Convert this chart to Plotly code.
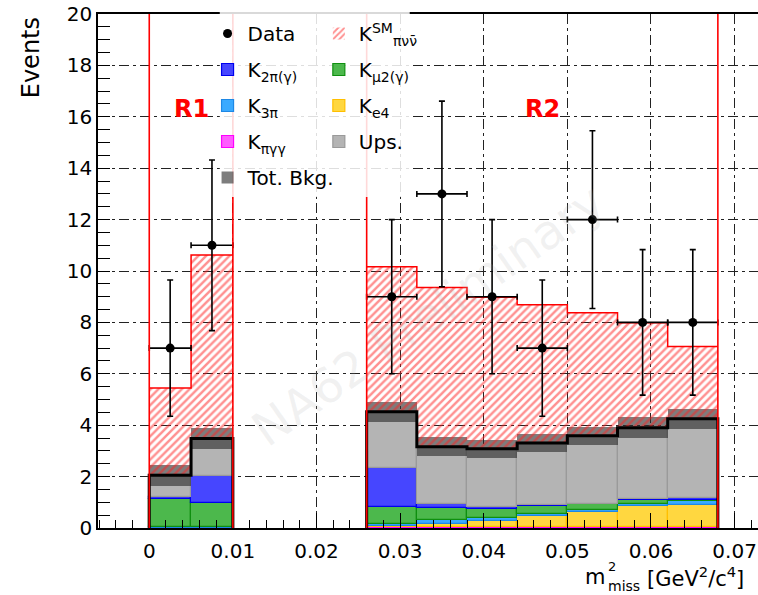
import numpy as np
import plotly.graph_objects as go

# ---------------- data ----------------
# bin edges of the two signal regions, m2_miss in GeV^2/c^4
r1_edges = [0.0, 0.005, 0.010]
r2_edges = [0.026, 0.032, 0.038, 0.044, 0.050, 0.056, 0.062, 0.068]

# expected events per bin (2 R1 bins followed by 7 R2 bins)
k_pigg   = [0.00, 0.00, 0.02, 0.04, 0.04, 0.04, 0.04, 0.04, 0.04]
k_e4     = [0.00, 0.00, 0.04, 0.12, 0.25, 0.43, 0.58, 0.80, 0.86]
k_3pi    = [0.04, 0.03, 0.10, 0.15, 0.08, 0.08, 0.10, 0.08, 0.15]
k_mu2    = [1.07, 0.95, 0.66, 0.45, 0.38, 0.30, 0.20, 0.17, 0.04]
k_2pi    = [0.09, 1.05, 1.52, 0.16, 0.07, 0.05, 0.02, 0.02, 0.09]
ups      = [0.85, 1.45, 2.18, 2.24, 2.26, 2.41, 2.65, 2.79, 3.07]
bkg_err  = [0.41, 0.42, 0.40, 0.37, 0.36, 0.36, 0.35, 0.40, 0.40]
k_pinunu = [3.40, 7.14, 5.65, 6.20, 5.90, 5.38, 4.79, 4.09, 2.81]
data_n   = [7, 11, 9, 13, 9, 7, 12, 8, 8]
data_err = [2.65, 3.32, 3.00, 3.61, 3.00, 2.65, 3.46, 2.83, 2.83]
region_labels = ["R1", "R2"]

# ---------------- derived binning ----------------
edges_list = [np.array(r1_edges), np.array(r2_edges)]
centers = np.concatenate([(e[:-1] + e[1:]) / 2 for e in edges_list])
widths = np.concatenate([np.diff(e) for e in edges_list])
nb1 = len(r1_edges) - 1
slices = [slice(0, nb1), slice(nb1, None)]

FONT = "DejaVu Sans"
fig = go.Figure()

# stacked backgrounds (bottom -> top)
components = [
    ("K<sub>πγγ</sub>", k_pigg, "#ff5cff", "#ff00ff", "legend", 4),
    ("K<sub>e4</sub>", k_e4, "#ffd740", "#ffbf00", "legend2", 3),
    ("K<sub>3π</sub>", k_3pi, "#3aaaff", "#1e88e5", "legend", 3),
    ("K<sub>μ2(γ)</sub>", k_mu2, "#4cb84c", "#0f8f0f", "legend2", 2),
    ("K<sub>2π(γ)</sub>", k_2pi, "#4646ff", "#0000ee", "legend", 2),
    ("Ups.", ups, "#b4b4b4", "#9a9a9a", "legend2", 4),
]
base = np.zeros(len(centers))
for name, vals, fill, edge, leg, rank in components:
    vals = np.array(vals, dtype=float)
    fig.add_trace(go.Bar(
        x=centers, y=vals, base=base.copy(), width=widths, name=name,
        marker=dict(color=fill, line=dict(color=edge, width=1.2)),
        legend=leg, legendgroup=name, legendrank=rank, hoverinfo="skip"))
    base = base + vals
tot = base
err = np.array(bkg_err)

# total background uncertainty band
fig.add_trace(go.Bar(
    x=centers, y=2 * err, base=tot - err, width=widths, name="Tot. Bkg.",
    marker=dict(color="rgba(45,45,45,0.62)", line=dict(width=0)),
    legend="legend", legendgroup="Tot. Bkg.", legendrank=5, hoverinfo="skip"))

# SM signal, hatched, stacked on top of the background
fig.add_trace(go.Bar(
    x=centers, y=k_pinunu, base=tot, width=widths,
    name="K<sup>SM</sup><sub>πνν̄</sub>",
    marker=dict(color="rgba(255,255,255,0)", line=dict(width=0),
                pattern=dict(shape="/", fgcolor="#ff2222", size=5.5, solidity=0.45)),
    legend="legend2", legendgroup="sig", legendrank=1, hoverinfo="skip"))

sig_top = tot + np.array(k_pinunu)
for e, s in zip(edges_list, slices):
    # total background line, dropping to zero at region edges
    xs = np.concatenate([[e[0]], e[:-1], [e[-1]]])
    ys = np.concatenate([[0.0], tot[s], [0.0]])
    fig.add_trace(go.Scatter(x=xs, y=ys, mode="lines", line=dict(color="black", width=3, shape="hv"),
                             showlegend=False, hoverinfo="skip"))
    # signal outline
    xs2 = np.concatenate([e[:-1], [e[-1]]])
    ys2 = np.concatenate([sig_top[s], [sig_top[s][-1]]])
    fig.add_trace(go.Scatter(x=xs2, y=ys2, mode="lines", line=dict(color="#ff0000", width=1.5, shape="hv"),
                             showlegend=False, hoverinfo="skip"))

# data
fig.add_trace(go.Scatter(
    x=centers, y=data_n, mode="markers", name="Data",
    marker=dict(color="black", size=9),
    error_y=dict(type="data", array=data_err, color="black", thickness=1.6, width=3),
    error_x=dict(type="data", array=widths / 2, color="black", thickness=1.6, width=3),
    legend="legend", legendgroup="Data", legendrank=1))

# region boundaries (red) + legend box cover
shapes = []
for e in edges_list:
    for xe in (e[0], e[-1]):
        shapes.append(dict(type="line", xref="x", yref="paper", x0=xe, x1=xe, y0=0, y1=1,
                           line=dict(color="#ff0000", width=1.6), layer="above"))
shapes.append(dict(type="rect", xref="paper", yref="paper", x0=0.1845, x1=0.4723, y0=0.6442, y1=1.03,
                   fillcolor="rgba(255,255,255,0.85)", line=dict(width=0), layer="above"))

annotations = []
for lab, e in zip(region_labels, edges_list):
    annotations.append(dict(x=(e[0] + e[-1]) / 2, y=16.3, xref="x", yref="y", text="<b>%s</b>" % lab,
                            showarrow=False, font=dict(family=FONT, size=24, color="#ff0000")))

def px(xp):
    return (xp - 98.3) / 659.7

def py(yp):
    return (527.5 - yp) / 513.0

# y title (aligned to the top, as in ROOT)
annotations.append(dict(x=px(31), y=py(58), xref="paper", yref="paper", xanchor="center",
                        yanchor="middle", text="Events", textangle=-90,
                        showarrow=False, font=dict(family=FONT, size=24, color="black")))
# x title pieces
annotations += [
    dict(x=px(583), y=py(576), xref="paper", yref="paper", xanchor="left", yanchor="middle",
         text="m", showarrow=False, font=dict(family=FONT, size=21)),
    dict(x=px(606), y=py(566), xref="paper", yref="paper", xanchor="left", yanchor="middle",
         text="2", showarrow=False, font=dict(family=FONT, size=13)),
    dict(x=px(606), y=py(585), xref="paper", yref="paper", xanchor="left", yanchor="middle",
         text="miss", showarrow=False, font=dict(family=FONT, size=14)),
    dict(x=px(645), y=py(576), xref="paper", yref="paper", xanchor="left", yanchor="middle",
         text="[GeV<sup>2</sup>/c<sup>4</sup>]", showarrow=False, font=dict(family=FONT, size=21)),
]
# watermark
annotations.append(dict(x=px(428), y=py(315), xref="paper", yref="paper", text="NA62 Preliminary",
                        textangle=-35, showarrow=False,
                        font=dict(family=FONT, size=48, color="rgba(170,170,170,0.16)")))

grid_dash = "10px,4px,3px,4px"
fig.update_layout(
    width=758, height=595,
    margin=dict(l=98, r=0, t=14, b=67),
    paper_bgcolor="white", plot_bgcolor="white",
    barmode="overlay", bargap=0,
    font=dict(family=FONT, size=20, color="black"),
    shapes=shapes, annotations=annotations,
    legend=dict(x=0.166, y=1.0, xanchor="left", yanchor="top", bgcolor="rgba(0,0,0,0)",
                borderwidth=0, font=dict(family=FONT, size=20), tracegroupgap=7,
                traceorder="grouped", itemwidth=30, itemclick=False),
    legend2=dict(x=0.3346, y=1.0, xanchor="left", yanchor="top", bgcolor="rgba(0,0,0,0)",
                 borderwidth=0, font=dict(family=FONT, size=20), tracegroupgap=7,
                 traceorder="grouped", itemwidth=30, itemclick=False),
    xaxis=dict(range=[-0.00613, 0.0728], tick0=0, dtick=0.01, ticks="inside", ticklen=15,
               tickwidth=1.3, tickcolor="black", showline=True, linecolor="black", linewidth=1.6,
               mirror=True, showgrid=True, gridcolor="#222222", gridwidth=1.2, griddash=grid_dash,
               zeroline=False, ticklabelstandoff=4, tickfont=dict(size=20),
               minor=dict(dtick=0.002, tick0=0, ticks="inside", ticklen=8, tickwidth=1.2,
                          tickcolor="black", showgrid=False)),
    yaxis=dict(range=[0, 20], tick0=0, dtick=2, ticks="inside", ticklen=12, tickwidth=1.3,
               tickcolor="black", showline=True, linecolor="black", linewidth=1.6,
               showgrid=True, gridcolor="#222222", gridwidth=1.2, griddash=grid_dash,
               zeroline=False, tickfont=dict(size=20),
               minor=dict(dtick=0.5, tick0=0, ticks="inside", ticklen=12, tickwidth=1.2,
                          tickcolor="black", showgrid=False)),
)

fig.write_html("out.html")
